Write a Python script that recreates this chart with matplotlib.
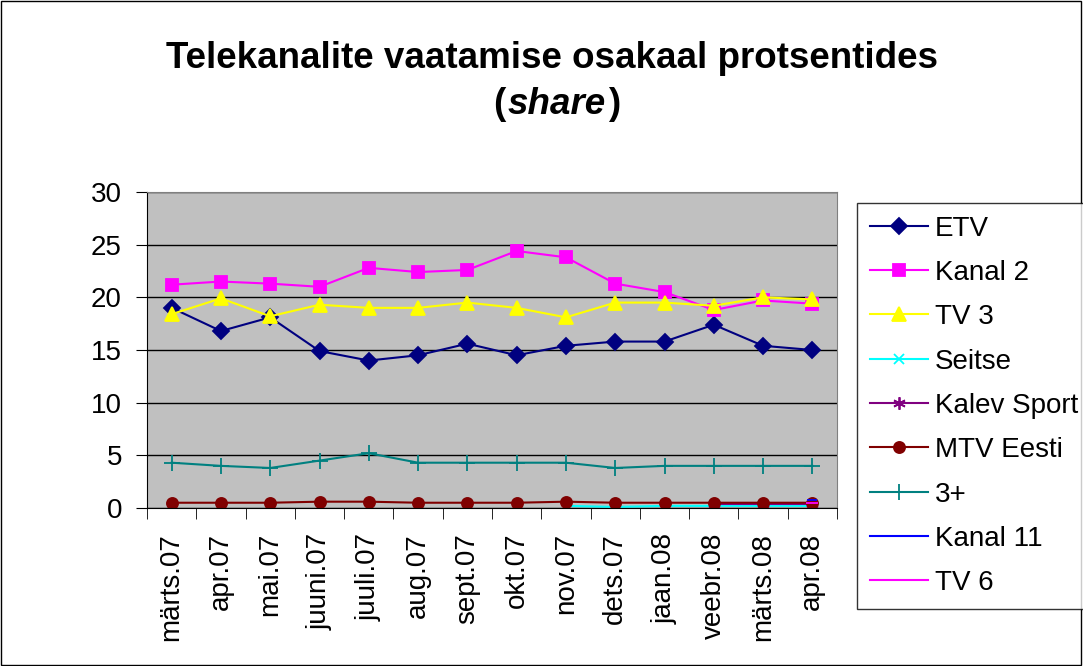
import numpy as np
import matplotlib.pyplot as plt
from matplotlib.patches import Rectangle

plt.rcParams['font.family'] = ['Liberation Sans', 'DejaVu Sans']

months = ['märts.07', 'apr.07', 'mai.07', 'juuni.07', 'juuli.07', 'aug.07', 'sept.07',
          'okt.07', 'nov.07', 'dets.07', 'jaan.08', 'veebr.08', 'märts.08', 'apr.08']
nan = np.nan
etv = [19.0, 16.8, 18.1, 14.9, 14.0, 14.5, 15.6, 14.5, 15.4, 15.8, 15.8, 17.4, 15.4, 15.0]
kanal2 = [21.2, 21.5, 21.3, 21.0, 22.8, 22.4, 22.6, 24.4, 23.8, 21.3, 20.5, 18.8, 19.7, 19.4]
tv3 = [18.4, 19.9, 18.2, 19.3, 19.0, 19.0, 19.5, 19.0, 18.1, 19.5, 19.5, 19.2, 20.0, 19.8]
seitse = [nan] * 8 + [0.2, 0.1, 0.2, 0.2, 0.2, 0.2]
kalev = [nan] * 11 + [0.4, 0.4, 0.4]
mtv = [0.5, 0.5, 0.5, 0.6, 0.6, 0.5, 0.5, 0.5, 0.6, 0.5, 0.5, 0.5, 0.5, 0.5]
three_plus = [4.3, 4.0, 3.8, 4.5, 5.2, 4.3, 4.3, 4.3, 4.3, 3.8, 4.0, 4.0, 4.0, 4.0]
kanal11 = [nan] * 13 + [0.8]
tv6 = [nan] * 13 + [0.5]

W, H = 1083, 666
fig = plt.figure(figsize=(W / 100, H / 100), dpi=100)
fig.patches.append(Rectangle((0.001, 0.001), 0.997, 0.997, transform=fig.transFigure,
                             fill=False, edgecolor='black', linewidth=1))
ax = fig.add_axes([147 / W, 1 - 508 / H, 690 / W, 316 / H])
ax.set_facecolor('#C0C0C0')

x = np.arange(len(months))
series = [
    ('ETV', etv, '#000080', 'D', 8),
    ('Kanal 2', kanal2, '#FF00FF', 's', 8),
    ('TV 3', tv3, '#FFFF00', '^', 10),
    ('Seitse', seitse, '#00FFFF', 'x', 7),
    ('Kalev Sport', kalev, '#800080', (6, 2, 0), 9),
    ('MTV Eesti', mtv, '#800000', 'o', 8),
    ('3+', three_plus, '#008080', '+', 11),
    ('Kanal 11', kanal11, '#0000FF', '_', 7),
    ('TV 6', tv6, '#FF00FF', '_', 9),
]
for name, vals, col, mk, ms in series:
    ax.plot(x, vals, color=col, marker=mk, markersize=ms, linewidth=1.5,
            markeredgewidth=1.3, label=name)

ax.set_xlim(-0.5, len(months) - 0.5)
ax.set_ylim(0, 30)
ax.set_yticks(range(0, 31, 5))
ax.yaxis.grid(True, color='black', linewidth=1)
ax.set_axisbelow(True)
ax.tick_params(axis='y', labelsize=20, length=8, direction='out', pad=10)
ax.set_xticks(x)
ax.set_xticklabels(months, rotation=90, fontsize=20)
ax.tick_params(axis='x', which='major', length=0, pad=18)
ax.set_xticks(np.arange(-0.5, len(months), 1), minor=True)
ax.tick_params(axis='x', which='minor', length=8, direction='out')
for s in ['top', 'right']:
    ax.spines[s].set_color('#808080')

cx = 552
fig.text(cx / W, 1 - 58 / H, 'Telekanalite vaatamise osakaal protsentides',
         ha='center', va='center', fontsize=26.5, fontweight='bold')

# second title line: "(" + italic "share" + ")"
parts = [('(', 'normal'), ('share', 'italic'), (')', 'normal')]
renderer = fig.canvas.get_renderer()
texts = [fig.text(0, 1 - 104 / H, s, ha='left', va='center', fontsize=26.5,
                  fontweight='bold', style=st) for s, st in parts]
widths = [t.get_window_extent(renderer).width for t in texts]
xpos = cx - sum(widths) / 2 + 3
for t, w in zip(texts, widths):
    t.set_x(xpos / W)
    xpos += w + 2

leg = fig.legend(loc='upper left', bbox_to_anchor=(857 / W, 1 - 203 / H),
                 fontsize=20, frameon=True, fancybox=False, edgecolor='black',
                 labelspacing=0.66, handlelength=2.1, handletextpad=0.25,
                 borderpad=0.45, borderaxespad=0)
leg.get_frame().set_linewidth(1)

fig.savefig('out.png', dpi=100)
